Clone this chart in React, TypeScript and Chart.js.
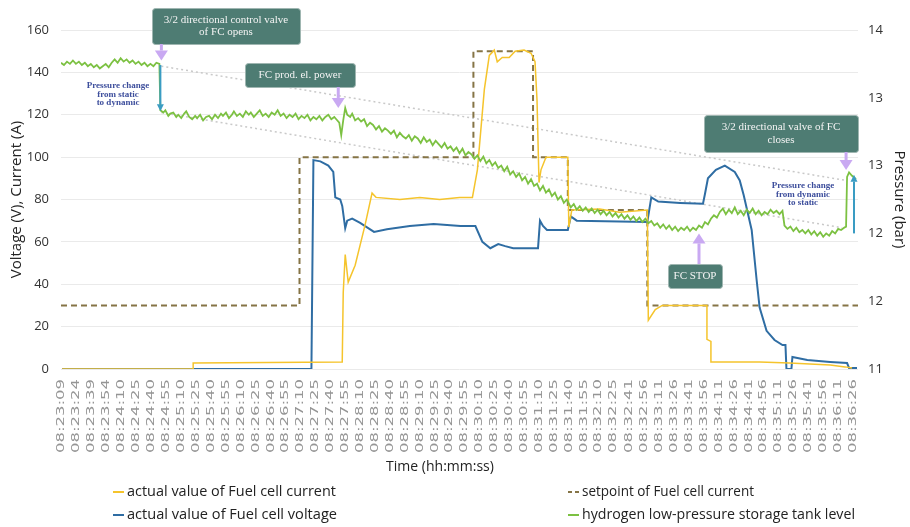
import React, { useEffect, useRef } from 'react';
import { Chart, registerables } from 'chart.js';

Chart.register(...registerables);

// ---------- DATA ----------
const timeLabels: string[] = [
  '08:23:09', '08:23:24', '08:23:39', '08:23:54', '08:24:10', '08:24:25', '08:24:40', '08:24:55',
  '08:25:10', '08:25:25', '08:25:40', '08:25:55', '08:26:10', '08:26:25', '08:26:40', '08:26:55',
  '08:27:10', '08:27:25', '08:27:40', '08:27:55', '08:28:10', '08:28:25', '08:28:40', '08:28:55',
  '08:29:10', '08:29:25', '08:29:40', '08:29:55', '08:30:10', '08:30:25', '08:30:40', '08:30:55',
  '08:31:10', '08:31:25', '08:31:40', '08:31:55', '08:32:10', '08:32:25', '08:32:41', '08:32:56',
  '08:33:11', '08:33:26', '08:33:41', '08:33:56', '08:34:11', '08:34:26', '08:34:41', '08:34:56',
  '08:35:11', '08:35:26', '08:35:41', '08:35:56', '08:36:11', '08:36:26',
];

// [seconds after 08:23:09, value]
const setpointPoints: [number, number][] = [
  [0, 30], [240, 30], [240, 100], [415, 100], [415, 150], [475, 150], [475, 100],
  [510, 100], [510, 75], [590, 75], [590, 30], [802, 30],
];

const currentPoints: [number, number][] = [
  [1, 0], [133, 0], [133, 2.8], [283, 3.3], [284, 36], [286, 54], [289, 41], [296, 49],
  [306, 68], [313, 83], [317, 81], [341, 80], [361, 81], [381, 80], [401, 81], [414, 81],
  [419, 94], [426, 132], [431, 148], [436, 150.5], [439, 145], [444, 147], [451, 147],
  [457, 150], [466, 150.5], [473, 149], [477, 145], [479, 127], [481, 88], [483, 94],
  [488, 100], [510, 100], [511, 67], [514, 75], [542, 75.5], [562, 74], [590, 75],
  [591, 23], [598, 28], [605, 30], [650, 30], [650, 14], [654, 13], [654, 3.3],
  [703, 3.3], [733, 2.8], [774, 1.9], [789, 1], [796, 0.5],
];

const voltagePoints: [number, number][] = [
  [1, 0], [252, 0], [254, 98.6], [261, 98], [269, 96], [274, 93], [276, 81], [281, 80],
  [283, 77], [286, 66.5], [288, 70], [293, 71], [301, 69], [315, 64.7], [328, 66],
  [351, 67.5], [375, 68.4], [402, 67.5], [417, 67.5], [424, 60], [432, 57], [440, 59],
  [447, 58], [455, 57], [480, 57], [482, 70], [485, 67.5], [489, 65.6], [510, 65.6],
  [513, 72], [519, 70], [590, 69.4], [594, 81], [601, 79], [623, 78.4], [646, 78],
  [648, 82.6], [651, 90], [659, 94], [668, 96], [678, 93], [683, 89], [687, 82],
  [695, 65.6], [700, 42], [703, 29], [710, 18], [718, 13.7], [726, 11.3], [729, 11.3],
  [730, 0], [735, 0], [736, 5.7], [751, 4.2], [774, 3.3], [791, 2.8], [793, 0.5], [801, 0.5],
];

const pressurePoints: [number, number][] = [
  [0, 13.71], [3, 13.69], [6, 13.72], [9, 13.70], [12, 13.73], [15, 13.70], [18, 13.72], [21, 13.69],
  [24, 13.71], [27, 13.68], [30, 13.70], [33, 13.67], [36, 13.69], [39, 13.66], [42, 13.68], [45, 13.70],
  [48, 13.67], [51, 13.71], [54, 13.74], [57, 13.71], [60, 13.75], [63, 13.72], [66, 13.74], [69, 13.71],
  [72, 13.73], [75, 13.70], [78, 13.72], [81, 13.69], [84, 13.71], [87, 13.68], [90, 13.70], [93, 13.68],
  [96, 13.71], [99, 13.70], [100, 13.29],
  [103, 13.27], [105, 13.29], [108, 13.24], [110, 13.26], [113, 13.27], [116, 13.23], [118, 13.25],
  [121, 13.22], [124, 13.26], [126, 13.28], [129, 13.23], [132, 13.21], [135, 13.24], [137, 13.22],
  [140, 13.25], [143, 13.20], [146, 13.23], [149, 13.24], [152, 13.21], [155, 13.25], [158, 13.22],
  [161, 13.26], [163, 13.24], [166, 13.27], [169, 13.22], [172, 13.25], [174, 13.28], [177, 13.24],
  [180, 13.26], [183, 13.23], [186, 13.28], [189, 13.25], [191, 13.27], [194, 13.23], [197, 13.26],
  [200, 13.29], [203, 13.24], [206, 13.26], [209, 13.23], [212, 13.27], [215, 13.25], [218, 13.29],
  [221, 13.24], [224, 13.26], [227, 13.22], [230, 13.25], [233, 13.23], [236, 13.26], [239, 13.21],
  [242, 13.24], [245, 13.22], [248, 13.25], [251, 13.20], [254, 13.23], [257, 13.21], [260, 13.24],
  [263, 13.20], [266, 13.23], [269, 13.25], [272, 13.21], [275, 13.23], [277, 13.21],
  [280, 13.18], [282, 13.07], [284, 13.20], [286, 13.31], [288, 13.25],
  [291, 13.23], [293, 13.26], [296, 13.20], [299, 13.22], [302, 13.19], [305, 13.21], [308, 13.15],
  [311, 13.18], [314, 13.16], [317, 13.12], [320, 13.15], [323, 13.10], [326, 13.13], [329, 13.11],
  [332, 13.08], [335, 13.11], [338, 13.05], [341, 13.09], [344, 13.06], [347, 13.04], [350, 13.07],
  [353, 13.02], [356, 13.06], [359, 13.04], [362, 13.00], [365, 13.05], [368, 13.01], [371, 13.03],
  [374, 12.98], [377, 13.02], [380, 12.99], [383, 12.96], [386, 13.00], [389, 12.95], [392, 12.97],
  [395, 12.93], [398, 12.96], [401, 12.91], [404, 12.95], [407, 12.89], [410, 12.92], [413, 12.90],
  [416, 12.86], [419, 12.89], [422, 12.84], [425, 12.88], [428, 12.82], [431, 12.85], [434, 12.80],
  [437, 12.83], [440, 12.78], [443, 12.80], [446, 12.75], [449, 12.79], [452, 12.72], [455, 12.75],
  [458, 12.70], [461, 12.73], [464, 12.67], [467, 12.70], [470, 12.64], [473, 12.68], [476, 12.62],
  [479, 12.64], [482, 12.58], [485, 12.62], [488, 12.56], [491, 12.59], [494, 12.53], [497, 12.56],
  [500, 12.50], [503, 12.53], [506, 12.47], [509, 12.50],
  [513, 12.43], [516, 12.46], [519, 12.41], [522, 12.44], [525, 12.40], [528, 12.43], [531, 12.39],
  [534, 12.42], [537, 12.38], [540, 12.41], [543, 12.37], [546, 12.40], [549, 12.36], [552, 12.39],
  [555, 12.35], [558, 12.38], [561, 12.34], [564, 12.37], [567, 12.33], [570, 12.36], [573, 12.32],
  [576, 12.35], [579, 12.31], [582, 12.34], [585, 12.30], [588, 12.33], [591, 12.29],
  [594, 12.31], [597, 12.27], [600, 12.29], [603, 12.25], [606, 12.28], [609, 12.24], [612, 12.27],
  [615, 12.23], [618, 12.26], [621, 12.22], [624, 12.25], [627, 12.23], [630, 12.26], [633, 12.22],
  [636, 12.25], [639, 12.23], [642, 12.27],
  [645, 12.25], [648, 12.30], [651, 12.28], [654, 12.33], [657, 12.36], [660, 12.34],
  [663, 12.39], [666, 12.42], [669, 12.37], [672, 12.41], [675, 12.38], [678, 12.43], [681, 12.37],
  [684, 12.40], [687, 12.36], [690, 12.41], [693, 12.38], [696, 12.42], [699, 12.37], [702, 12.40],
  [705, 12.36], [708, 12.39], [711, 12.37], [714, 12.41], [717, 12.38], [720, 12.40], [723, 12.37],
  [726, 12.40],
  [728, 12.27], [731, 12.24], [734, 12.26], [737, 12.22], [740, 12.25], [743, 12.21], [746, 12.23],
  [749, 12.20], [752, 12.23], [755, 12.19], [758, 12.22], [761, 12.18], [764, 12.21], [767, 12.17],
  [770, 12.20], [773, 12.18], [776, 12.22], [779, 12.20], [782, 12.24], [785, 12.23], [788, 12.25],
  [790, 12.26], [791, 12.70], [793, 12.74], [796, 12.71], [800, 12.68],
];

const trendUpper: [number, number][] = [[101, 13.68], [789, 12.67]];
const trendLower: [number, number][] = [[101, 13.27], [786, 12.25]];

const legendLabels = [
  'actual value of Fuel cell current',
  'actual value of Fuel cell voltage',
  'setpoint of Fuel cell current',
  'hydrogen low-pressure storage tank level',
];
const xTitle = 'Time (hh:mm:ss)';

// ---------- STYLE ----------
const C_CURRENT = '#F5C42C';
const C_VOLTAGE = '#2F6DA3';
const C_SETPOINT = '#857446';
const C_PRESSURE = '#7CC142';
const C_TREND = '#C9C9C9';
const C_LAVENDER = '#C9A9F2';
const C_BLUEARROW = '#3A9CC3';
const C_BLUETEXT = '#3D4E9C';
const C_BOX = '#4E7C73';
const C_BOXEDGE = '#9FB6B1';

const toSec = (s: string) => {
  const [h, m, x] = s.split(':').map(Number);
  return h * 3600 + m * 60 + x;
};
const tickTimes = timeLabels.map((l) => toSec(l) - toSec(timeLabels[0]));
const pts = (a: [number, number][]) => a.map(([x, y]) => ({ x, y }));

function vArrow(ctx: CanvasRenderingContext2D, x: number, yFrom: number, yTip: number, color: string, stem: number, headW: number, headL: number) {
  const dir = yTip > yFrom ? 1 : -1;
  ctx.save();
  ctx.fillStyle = color;
  ctx.strokeStyle = color;
  ctx.lineWidth = stem;
  ctx.beginPath();
  ctx.moveTo(x, yFrom);
  ctx.lineTo(x, yTip - dir * headL);
  ctx.stroke();
  ctx.beginPath();
  ctx.moveTo(x, yTip);
  ctx.lineTo(x - headW / 2, yTip - dir * headL);
  ctx.lineTo(x + headW / 2, yTip - dir * headL);
  ctx.closePath();
  ctx.fill();
  ctx.restore();
}

function noteBox(ctx: CanvasRenderingContext2D, left: number, top: number, w: number, h: number, lines: string[]) {
  ctx.save();
  ctx.fillStyle = C_BOX;
  ctx.strokeStyle = C_BOXEDGE;
  ctx.lineWidth = 1;
  ctx.beginPath();
  (ctx as any).roundRect(left + 0.5, top + 0.5, w, h, 3);
  ctx.fill();
  ctx.stroke();
  ctx.fillStyle = '#F4F4F4';
  ctx.font = '11px "Liberation Serif"';
  ctx.textAlign = 'center';
  ctx.textBaseline = 'middle';
  const lh = 12.5;
  const cy = top + h / 2 - ((lines.length - 1) * lh) / 2;
  lines.forEach((l, i) => ctx.fillText(l, left + w / 2, cy + i * lh));
  ctx.restore();
}

function blueNote(ctx: CanvasRenderingContext2D, cx: number, top: number, lines: string[]) {
  ctx.save();
  ctx.fillStyle = C_BLUETEXT;
  ctx.font = 'bold 9px "Liberation Serif"';
  ctx.textAlign = 'center';
  ctx.textBaseline = 'middle';
  lines.forEach((l, i) => ctx.fillText(l, cx, top + i * 8.5));
  ctx.restore();
}

const overlayPlugin = {
  id: 'overlay',
  afterDraw(chart: any) {
    const { ctx, chartArea, scales } = chart;
    const xs = scales.x;
    const yp = scales.y1;

    // x tick labels (rotated, elongated as in the source)
    ctx.save();
    ctx.font = '11px "DejaVu Sans"';
    ctx.fillStyle = '#959595';
    ctx.textAlign = 'right';
    ctx.textBaseline = 'middle';
    timeLabels.forEach((lab, i) => {
      const x = xs.getPixelForValue(tickTimes[i]);
      const w = ctx.measureText(lab).width;
      ctx.save();
      ctx.translate(x, chartArea.bottom + 10);
      ctx.rotate(-Math.PI / 2);
      ctx.scale(74 / w, 1);
      ctx.fillText(lab, 0, 0);
      ctx.restore();
    });
    ctx.restore();

    // x axis title
    ctx.save();
    ctx.font = '14px "Open Sans"';
    ctx.fillStyle = '#222';
    ctx.textAlign = 'center';
    ctx.textBaseline = 'middle';
    ctx.fillText(xTitle, 440, 467);
    ctx.restore();

    // legend
    const items = [
      { x: 113, y: 492, color: C_CURRENT, dash: [] as number[], text: legendLabels[0], tw: 209 },
      { x: 113, y: 515, color: C_VOLTAGE, dash: [] as number[], text: legendLabels[1], tw: 210 },
      { x: 568, y: 492, color: C_SETPOINT, dash: [4, 3], text: legendLabels[2], tw: 172 },
      { x: 568, y: 515, color: C_PRESSURE, dash: [] as number[], text: legendLabels[3], tw: 273 },
    ];
    items.forEach((it) => {
      ctx.save();
      ctx.strokeStyle = it.color;
      ctx.lineWidth = 2;
      ctx.setLineDash(it.dash);
      ctx.beginPath();
      ctx.moveTo(it.x, it.y);
      ctx.lineTo(it.x + 11, it.y);
      ctx.stroke();
      ctx.setLineDash([]);
      ctx.font = '14px "Open Sans"';
      ctx.fillStyle = '#222';
      ctx.textAlign = 'left';
      ctx.textBaseline = 'middle';
      const w = ctx.measureText(it.text).width;
      ctx.translate(it.x + 14, it.y);
      ctx.scale(it.tw / w, 1);
      ctx.fillText(it.text, 0, 0);
      ctx.restore();
    });

    // annotations
    const xA = xs.getPixelForValue(100);
    noteBox(ctx, 152, 8, 148, 36, ['3/2 directional control valve', 'of FC opens']);
    vArrow(ctx, xA + 1, 44, yp.getPixelForValue(13.73), C_LAVENDER, 3, 13, 10);
    vArrow(ctx, xA, yp.getPixelForValue(13.69), yp.getPixelForValue(13.28), C_BLUEARROW, 2, 7, 7);
    blueNote(ctx, 118, 86, ['Pressure change', 'from static', 'to dynamic']);

    const xB = xs.getPixelForValue(279);
    noteBox(ctx, 245, 63, 110, 24, ['FC prod. el. power']);
    vArrow(ctx, xB, 87, yp.getPixelForValue(13.31), C_LAVENDER, 3, 13, 10);

    const xC = xs.getPixelForValue(790);
    noteBox(ctx, 704, 115, 154, 37, ['3/2 directional valve of FC', 'closes']);
    vArrow(ctx, xC, 152, yp.getPixelForValue(12.76), C_LAVENDER, 3, 13, 10);

    const xD = xs.getPixelForValue(798);
    vArrow(ctx, xD, yp.getPixelForValue(12.2), yp.getPixelForValue(12.72), C_BLUEARROW, 2, 7, 7);
    blueNote(ctx, 803, 186, ['Pressure change', 'from dynamic', 'to static']);

    const xE = xs.getPixelForValue(642);
    noteBox(ctx, 668, 264, 54, 24, ['FC STOP']);
    vArrow(ctx, xE, 264, yp.getPixelForValue(12.2), C_LAVENDER, 3, 13, 10);
  },
};

export default function App() {
  const ref = useRef<HTMLCanvasElement | null>(null);

  useEffect(() => {
    if (!ref.current) return;
    Chart.defaults.font.family = '"Open Sans", sans-serif';
    const chart = new Chart(ref.current, {
      type: 'line',
      data: {
        datasets: [
          {
            label: legendLabels[0], data: pts(currentPoints), borderColor: C_CURRENT, borderWidth: 1.5,
            pointRadius: 0, yAxisID: 'y', order: 2,
          },
          {
            label: legendLabels[1], data: pts(voltagePoints), borderColor: C_VOLTAGE, borderWidth: 2,
            pointRadius: 0, yAxisID: 'y', order: 3,
          },
          {
            label: legendLabels[2], data: pts(setpointPoints), borderColor: C_SETPOINT, borderWidth: 2,
            borderDash: [6, 4], pointRadius: 0, yAxisID: 'y', order: 5,
          },
          {
            label: legendLabels[3], data: pts(pressurePoints), borderColor: C_PRESSURE, borderWidth: 1.8,
            pointRadius: 0, yAxisID: 'y1', order: 1,
          },
          {
            label: 'trend upper', data: pts(trendUpper), borderColor: C_TREND, borderWidth: 1.5,
            borderDash: [2, 3], pointRadius: 0, yAxisID: 'y1', order: 9,
          },
          {
            label: 'trend lower', data: pts(trendLower), borderColor: C_TREND, borderWidth: 1.5,
            borderDash: [2, 3], pointRadius: 0, yAxisID: 'y1', order: 9,
          },
        ],
      },
      options: {
        responsive: false,
        animation: false,
        devicePixelRatio: 1,
        layout: { padding: { top: 30, bottom: 48, left: 0, right: 0 } },
        plugins: { legend: { display: false }, tooltip: { enabled: false } },
        elements: { line: { tension: 0 } },
        scales: {
          x: {
            type: 'linear', min: 0, max: 802,
            grid: { display: false }, border: { display: false },
            ticks: { display: false },
            afterBuildTicks: (s: any) => { s.ticks = tickTimes.map((v) => ({ value: v })); },
            afterFit: (s: any) => { s.height = 110; },
            title: { display: false },
          },
          y: {
            position: 'left', min: 0, max: 160,
            ticks: { stepSize: 20, color: '#333', font: { size: 13 }, padding: 12 },
            grid: { color: '#EAEAEA', drawTicks: false }, border: { display: false },
            afterFit: (s: any) => { s.width = 61; },
            title: {
              display: true, text: 'Voltage (V), Current (A)', color: '#222',
              font: { size: 15 }, padding: { top: 8, bottom: 0 },
            },
          },
          y1: {
            position: 'right', min: 11, max: 14,
            ticks: { stepSize: 0.6, color: '#333', font: { size: 13 }, padding: 10, callback: (v: any) => Number(v).toFixed(0) },
            grid: { display: false, drawTicks: false }, border: { display: false },
            afterFit: (s: any) => { s.width = 52; },
            title: {
              display: true, text: 'Pressure (bar)', color: '#222',
              font: { size: 15 }, padding: { top: 2, bottom: 0 },
            },
          },
        },
      },
      plugins: [overlayPlugin],
    } as any);
    return () => chart.destroy();
  }, []);

  return (
    <div style={{ position: 'fixed', left: 0, top: 0, width: 910, height: 527, background: '#fff' }}>
      <canvas ref={ref} width={910} height={527} style={{ display: 'block' }} />
    </div>
  );
}
